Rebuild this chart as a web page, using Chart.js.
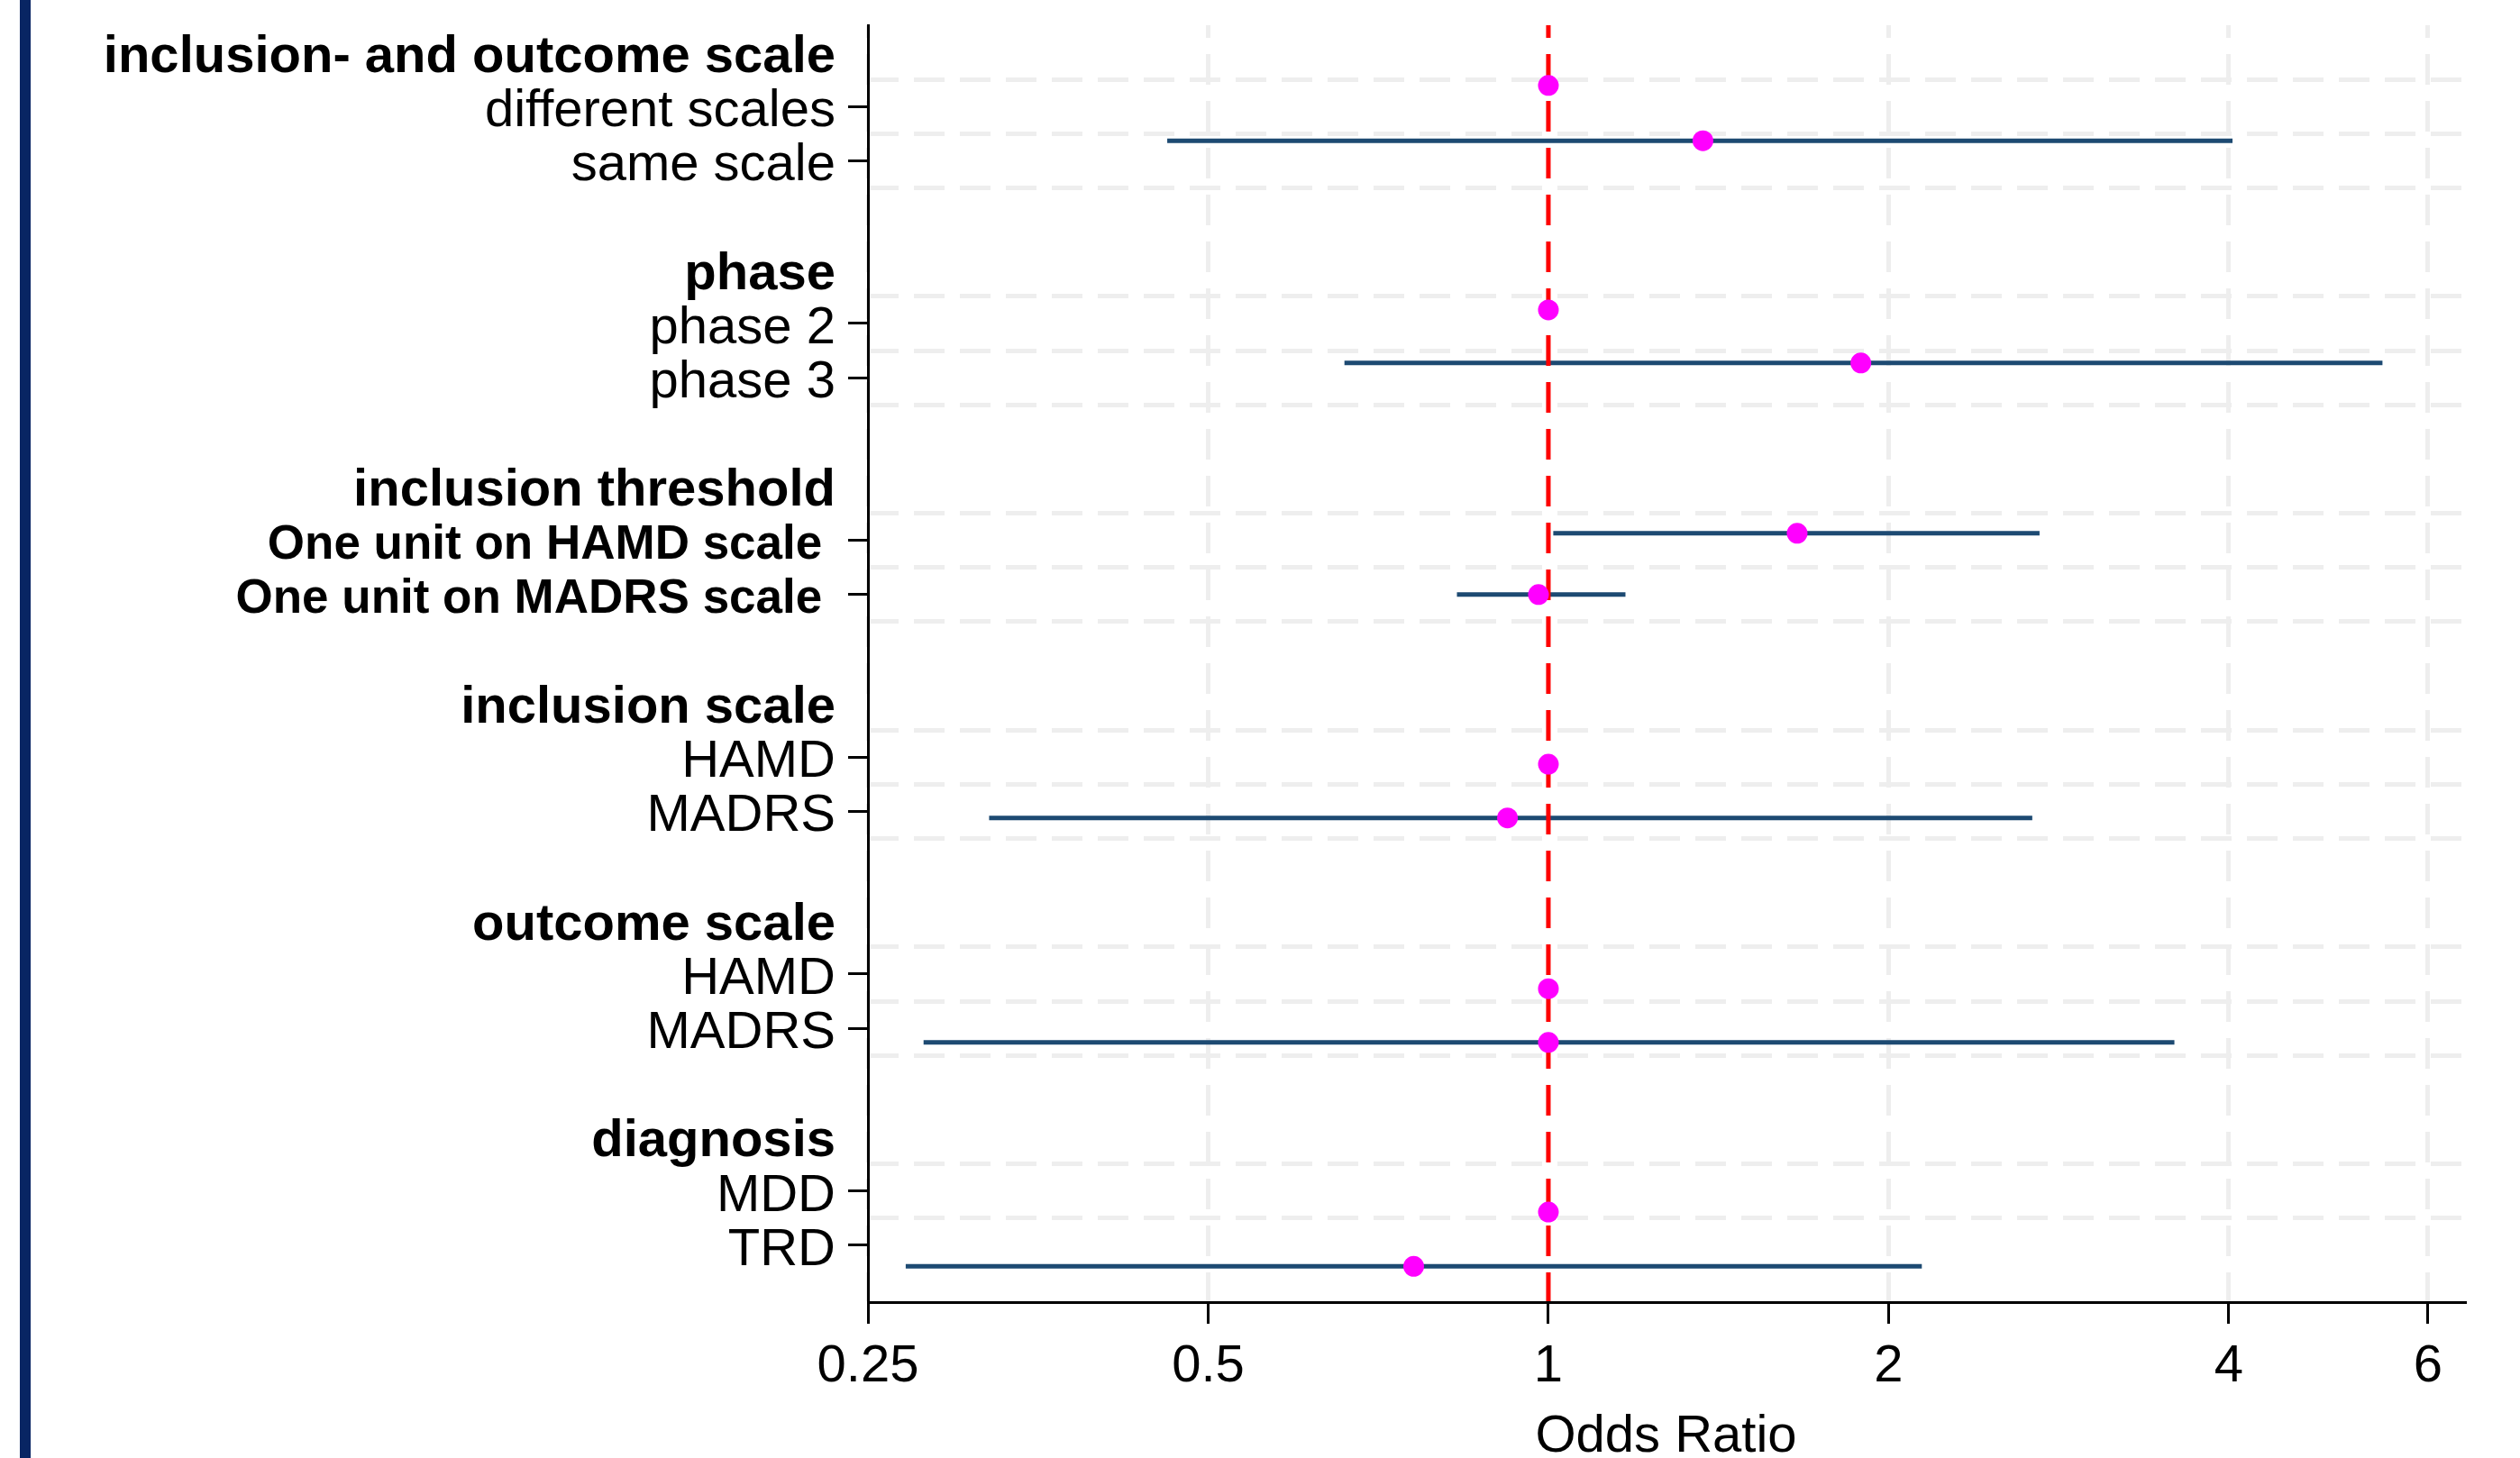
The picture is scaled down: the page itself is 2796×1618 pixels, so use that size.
<!DOCTYPE html>
<html>
<head>
<meta charset="utf-8">
<title>Odds Ratio</title>
<script src="https://cdn.jsdelivr.net/npm/chart.js@4.4.1/dist/chart.umd.min.js"></script>
<style>
  html, body { margin: 0; padding: 0; background: #fff; }
  #wrap { position: relative; width: 2796px; height: 1618px; overflow: hidden; }
  #wrap canvas { position: absolute; left: 0; top: 0; }
  #edge { position: absolute; left: 22px; top: 0; width: 12px; height: 1618px; background: #082563; }
</style>
</head>
<body>
<div id="wrap">
  <canvas id="forest" width="2796" height="1618"></canvas>
  <div id="edge"></div>
</div>
<script>
// row labels, top to bottom (one row = one y unit)
const rowLabels = [
  "inclusion- and outcome scale", "different scales", "same scale", "",
  "phase", "phase 2", "phase 3", "",
  "inclusion threshold", "One unit on HAMD scale ", "One unit on MADRS scale ", "",
  "inclusion scale", "HAMD", "MADRS", "",
  "outcome scale", "HAMD", "MADRS", "",
  "diagnosis", "MDD", "TRD",
];
// h = group header, b = bold item, n = item, "" = empty row
const rowKinds = [
  "h", "n", "n", "",
  "h", "n", "n", "",
  "h", "b", "b", "",
  "h", "n", "n", "",
  "h", "n", "n", "",
  "h", "n", "n",
];

// one entry per item (reference categories have OR 1 and no CI)
const pointRows = [0.61, 1.63, 4.75, 5.73, 8.87, 10.0, 13.13, 14.12, 17.27, 18.26, 21.39, 22.39];
const oddsRatios = [1, 1.37, 1, 1.89, 1.66, 0.98, 1, 0.92, 1, 1.0, 1, 0.76];
const ciLower = [null, 0.46, null, 0.66, 1.01, 0.83, null, 0.32, null, 0.28, null, 0.27];
const ciUpper = [null, 4.03, null, 5.47, 2.72, 1.17, null, 2.68, null, 3.58, null, 2.14];

const refValue = 1;
const xTickValues = [0.25, 0.5, 1, 2, 4, 6];
const xTickLabels = ["0.25", "0.5", "1", "2", "4", "6"];
const gridRows = [0.5, 1.5, 2.5, 4.5, 5.5, 6.5, 8.5, 9.5, 10.5, 12.5, 13.5, 14.5, 16.5, 17.5, 18.5, 20.5, 21.5];

const yMin = -0.5;
const yMax = 23.05;

Chart.defaults.font.family = "'Liberation Sans', Arial, Helvetica, sans-serif";
Chart.defaults.font.size = 58;
Chart.defaults.color = "#000";

// ---- build datasets ----
const points = oddsRatios.map((v, i) => ({ x: v, y: pointRows[i] }));

const ciPoints = [];
ciLower.forEach((lo, i) => {
  if (lo == null) return;
  ciPoints.push({ x: lo, y: pointRows[i] }, { x: ciUpper[i], y: pointRows[i] }, { x: null, y: null });
});

function isItem(i) {
  return rowKinds[i] === "n" || rowKinds[i] === "b";
}

// header rows and bold items use different sizes
function rowFont(i) {
  if (rowKinds[i] === "h") return { size: 58, weight: "bold" };
  if (rowKinds[i] === "b") return { size: 53, weight: "bold" };
  return { size: 58, weight: "normal" };
}

new Chart(document.getElementById("forest"), {
  type: "scatter",
  data: {
    datasets: [
      {
        label: "Odds Ratio",
        data: points,
        yAxisID: "y",
        backgroundColor: "#ff00ff",
        pointRadius: 11.5,
        pointBorderWidth: 0,
        order: 0,
      },
      {
        type: "line",
        label: "reference",
        data: [{ x: refValue, y: yMin }, { x: refValue, y: yMax }],
        yAxisID: "y",
        borderColor: "#ff0000",
        borderWidth: 5,
        borderDash: [34, 18],
        borderDashOffset: 20,
        pointRadius: 0,
        order: 1,
      },
      {
        type: "line",
        label: "95% CI",
        data: ciPoints,
        yAxisID: "y",
        borderColor: "#1d4a72",
        borderWidth: 5,
        pointRadius: 0,
        spanGaps: false,
        order: 2,
      },
    ],
  },
  options: {
    responsive: false,
    animation: false,
    devicePixelRatio: 1,
    layout: { padding: { top: 28, right: 62, bottom: 0, left: 0 } },
    plugins: {
      legend: { display: false },
      tooltip: { enabled: false },
    },
    scales: {
      x: {
        type: "logarithmic",
        min: 0.25,
        max: 6.46,
        afterBuildTicks: (s) => { s.ticks = xTickValues.map((v) => ({ value: v })); },
        afterFit: (s) => { s.height = 173; s.paddingLeft = 0; s.paddingRight = 0; },
        ticks: {
          autoSkip: false,
          maxRotation: 0,
          padding: 13,
          color: "#000",
          font: { size: 58 },
          callback: (v, i) => xTickLabels[i],
        },
        grid: { color: "#eeeeee", lineWidth: 5, tickLength: 24, tickWidth: 3, tickColor: "#000" },
        border: { display: true, color: "#000", width: 3, dash: [34, 18], dashOffset: 20, z: 1 },
        title: {
          display: true,
          text: "Odds Ratio",
          color: "#000",
          font: { size: 58, lineHeight: 0.8 },
          padding: { top: 13, bottom: 0 },
        },
      },
      y: {
        type: "linear",
        reverse: true,
        min: yMin,
        max: yMax,
        afterBuildTicks: (s) => { s.ticks = rowLabels.map((_, i) => ({ value: i })); },
        afterFit: (s) => { s.width = 963; s.paddingTop = 0; s.paddingBottom = 0; },
        ticks: {
          autoSkip: false,
          padding: 14,
          labelOffset: 6,
          color: "#000",
          callback: (v, i) => rowLabels[i],
          font: (ctx) => rowFont(ctx.index),
        },
        grid: {
          drawOnChartArea: false,
          tickLength: 22,
          tickWidth: 3,
          tickColor: (ctx) => (isItem(ctx.index) ? "#000" : "rgba(0,0,0,0)"),
        },
        border: { display: true, color: "#000", width: 3, z: 1 },
      },
      yGrid: {
        type: "linear",
        position: "right",
        reverse: true,
        min: yMin,
        max: yMax,
        afterBuildTicks: (s) => { s.ticks = gridRows.map((v) => ({ value: v })); },
        afterFit: (s) => { s.width = 0; s.paddingTop = 0; s.paddingBottom = 0; },
        ticks: { display: false },
        grid: { color: "#eeeeee", lineWidth: 5, drawTicks: false },
        border: { display: false, dash: [34, 17], dashOffset: 0 },
      },
    },
  },
});
</script>
</body>
</html>
